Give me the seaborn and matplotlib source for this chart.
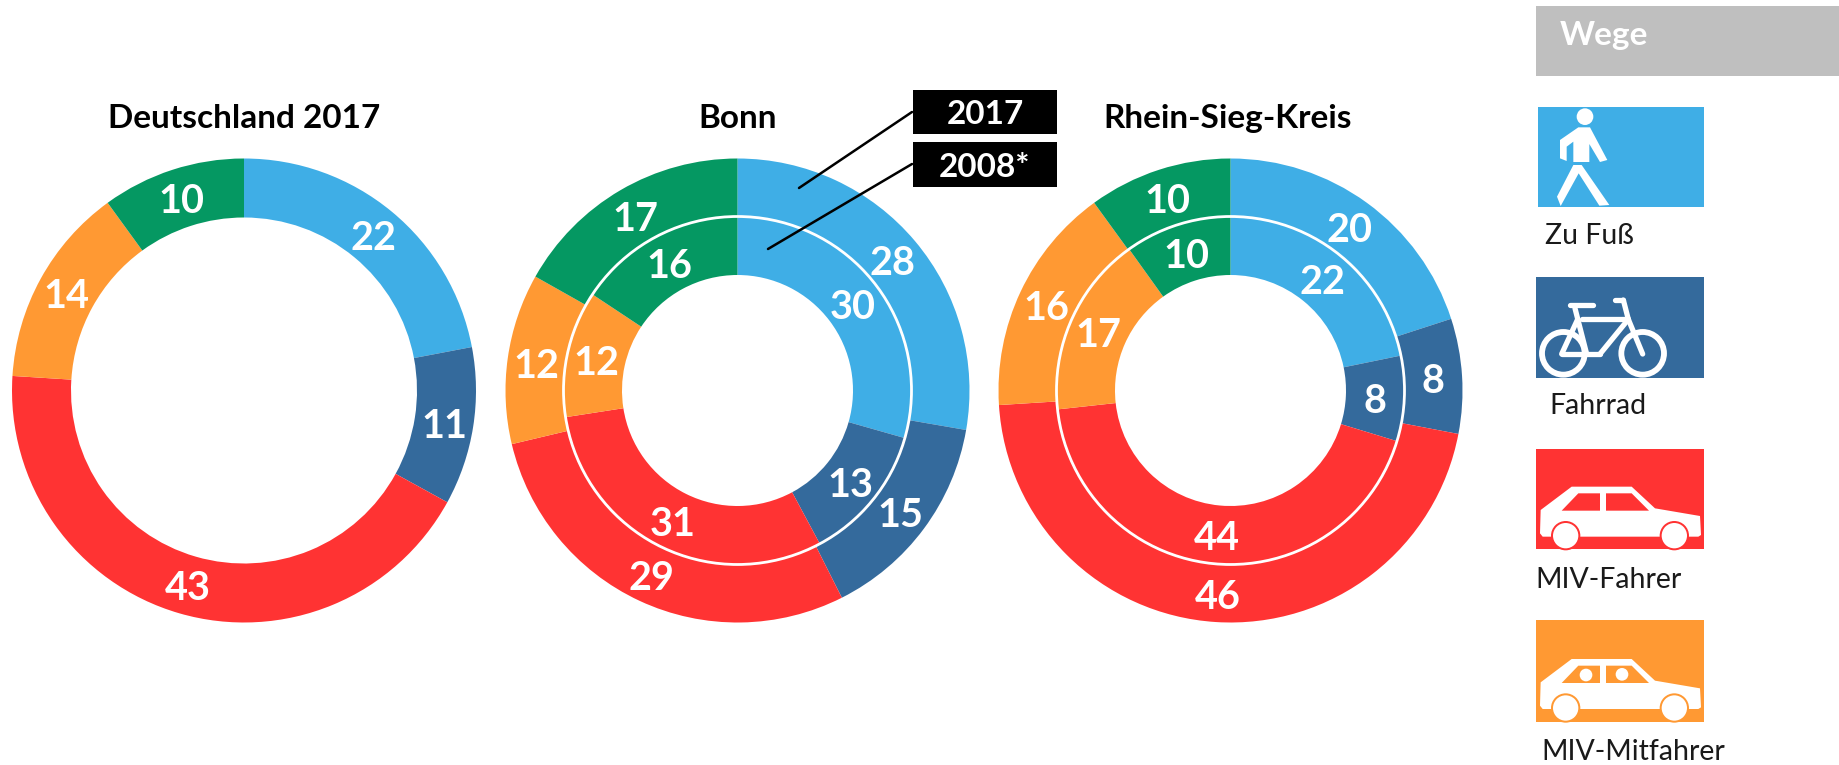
import numpy as np
import matplotlib
matplotlib.use("Agg")
import matplotlib.pyplot as plt
from matplotlib.patches import Circle, Polygon, Rectangle
import seaborn as sns

modes = ["Zu Fuß", "Fahrrad", "MIV-Fahrer", "MIV-Mitfahrer", "Sonstige"]
colors = ["#3FAEE6", "#346A9C", "#FF3333", "#FF9933", "#059862"]
titles = ["Deutschland 2017", "Bonn", "Rhein-Sieg-Kreis"]
outer_2017 = [[22, 11, 43, 14, 10], [28, 15, 29, 12, 17], [20, 8, 46, 16, 10]]
inner_2008 = [None, [30, 13, 31, 12, 16], [22, 8, 44, 17, 10]]
year_labels = ["2017", "2008*"]

sns.set_theme(style="white")
plt.rcParams["font.family"] = ["Lato", "DejaVu Sans"]
W, H = 1839, 765
palette = sns.color_palette(colors)
fig = plt.figure(figsize=(W / 100, H / 100), dpi=100, facecolor="white")

R, RM, RI = 232, 174, 115.5
centers = [244, 737.5, 1230.5]
CY = 390.5
HALF = 250


def ring(ax, vals, rout, rin):
    wedges, _ = ax.pie(vals, radius=rout, colors=palette, startangle=90, counterclock=False,
                       wedgeprops=dict(width=rout - rin, linewidth=0))
    rm = (rout + rin) / 2
    for w, v in zip(wedges, vals):
        a = np.deg2rad((w.theta1 + w.theta2) / 2)
        ax.text(rm * np.cos(a), rm * np.sin(a) - 4, str(v), color="white", fontsize=28.5,
                fontweight="bold", ha="center", va="center")


for cx, title, out, inn in zip(centers, titles, outer_2017, inner_2008):
    ax = fig.add_axes([(cx - HALF) / W, 1 - (CY + HALF) / H, 2 * HALF / W, 2 * HALF / H])
    if inn is None:
        ring(ax, out, R, 173)
    else:
        ring(ax, out, R, RM)
        ring(ax, inn, RM, RI)
        ax.add_patch(Circle((0, 0), RM, fill=False, ec="white", lw=2.0))
    ax.set_xlim(-HALF, HALF)
    ax.set_ylim(-HALF, HALF)
    ax.set_aspect("equal")
    ax.axis("off")

ov = fig.add_axes([0, 0, 1, 1], facecolor="none")
ov.set_xlim(0, W)
ov.set_ylim(H, 0)
ov.axis("off")

for cx, title, tx in zip(centers, titles, [244, 737.5, 1228]):
    ov.text(tx, 128, title, fontsize=24, fontweight="bold", color="black", ha="center", va="baseline")

# Year call-outs
for (y0, y1), lab, (x_end, y_end), y_s in zip([(90, 134), (142, 187)], year_labels,
                                               [(799, 188), (768, 249)], [112, 164]):
    ov.add_patch(Rectangle((913.5, y0), 143.5, y1 - y0, fc="black", ec="none"))
    ov.text(985, (y0 + y1) / 2 + 12, lab, color="white", fontsize=24, fontweight="bold", ha="center", va="baseline")
    ov.plot([912, x_end], [y_s, y_end], color="black", lw=1.8)

# Legend header
ov.add_patch(Rectangle((1536, 6), 303, 70, fc="#BFBFBF", ec="none"))
ov.text(1560, 45, "Wege", color="white", fontsize=24, fontweight="bold", va="baseline")


def zx(v):
    return 1500 + v / 3


def P(pts, color, y0=0, z=3):
    ov.add_patch(Polygon([(zx(a), y0 + b / 3) for a, b in pts], closed=True, fc=color, ec="none", zorder=z))


def C(x, y, r, color, y0=0, z=3):
    ov.add_patch(Circle((zx(x), y0 + y / 3), r / 3, fc=color, ec="none", zorder=z))


# Walking icon
ov.add_patch(Rectangle((1538, 107), 166, 100, fc=colors[0], ec="none"))
C(255, 350, 25, "white")
P([(235, 382), (270, 382), (322, 480), (300, 486), (268, 432), (268, 486), (220, 486), (220, 425),
   (200, 440), (200, 483), (180, 475), (180, 420)], "white")
P([(220, 495), (245, 495), (328, 615), (298, 617), (236, 520), (182, 618), (171, 590)], "white")

# Bicycle icon
ov.add_patch(Rectangle((1536, 277), 168, 101, fc=colors[1], ec="none"))
for wx in (190, 428):
    ov.add_patch(Circle((zx(wx), 1060 / 3), 64 / 3, fill=False, ec="white", lw=4.2, zorder=3))
for (a, b), (c, d) in [((245, 958), (385, 958)), ((385, 958), (300, 1062)), ((185, 1062), (300, 1062)),
                       ((185, 1062), (232, 960)), ((225, 925), (260, 1062)), ((385, 958), (428, 1062)),
                       ((345, 900), (370, 900)), ((370, 900), (385, 958)), ((210, 916), (278, 916))]:
    ov.plot([zx(a), zx(c)], [b / 3, d / 3], color="white", lw=3.8, solid_capstyle="round", zorder=3)


def car(box_top, box_h, color, dy, heads=False):
    y0 = 420
    ov.add_patch(Rectangle((1536, y0 + box_top / 3), 168, box_h / 3, fc=color, ec="none", zorder=2))
    P([(122, 270 + dy), (215, 200 + dy), (395, 200 + dy), (465, 265 + dy), (600, 288 + dy), (603, 345 + dy),
       (595, 350 + dy), (128, 350 + dy), (120, 340 + dy)], "white", y0)
    for wx in (197, 523):
        C(wx, 347 + dy, 44, color, y0, 4)
        C(wx, 347 + dy, 38, "white", y0, 5)
    P([(185, 272 + dy), (235, 220 + dy), (300, 220 + dy), (300, 272 + dy)], color, y0, 4)
    P([(318, 220 + dy), (395, 220 + dy), (447, 272 + dy), (318, 272 + dy)], color, y0, 4)
    if heads:
        C(258, 248 + dy, 19, "white", y0, 5)
        C(366, 246 + dy, 19, "white", y0, 5)


car(88, 299, colors[2], 0)
car(601, 304, colors[3], 517, heads=True)

# Legend labels
for lab, x, y in zip(modes[:4], [1545, 1549, 1535, 1541], [244, 414, 588, 760]):
    ov.text(x, y, lab, color="#1a1a1a", fontsize=20.5, va="baseline")

fig.savefig("out.png", dpi=100, facecolor="white")
